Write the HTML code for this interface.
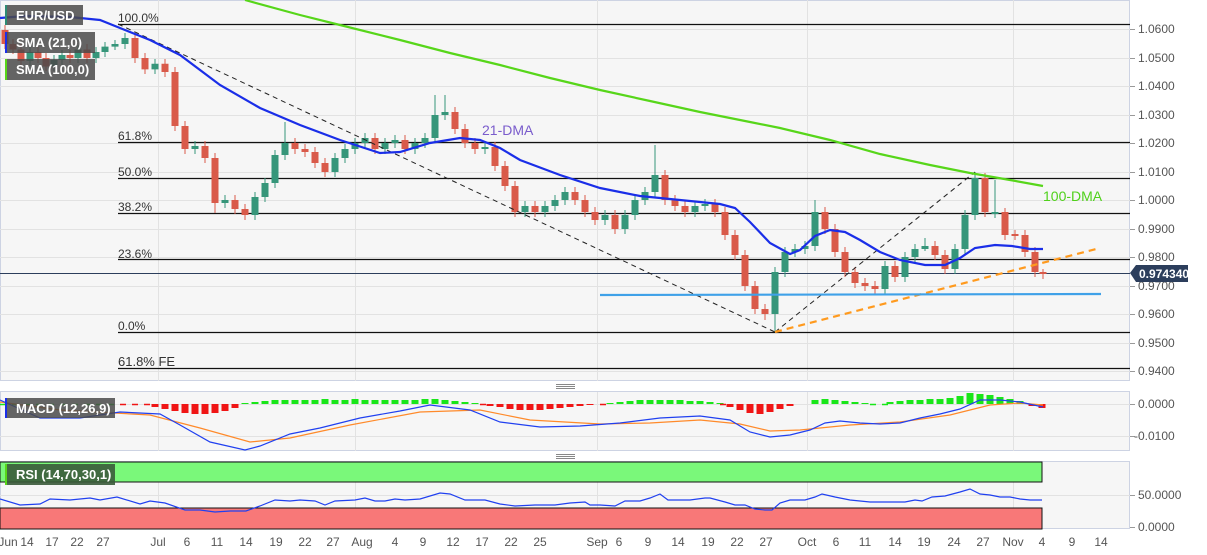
<!DOCTYPE html>
<html><head><meta charset="utf-8"><style>
html,body{margin:0;padding:0;background:#fff;}
svg{display:block;font-family:"Liberation Sans",sans-serif;}
</style></head><body>
<svg width="1207" height="555" viewBox="0 0 1207 555" xmlns="http://www.w3.org/2000/svg">
<rect x="0" y="0" width="1207" height="555" fill="#fff"/>
<rect x="0.5" y="0.5" width="1129" height="380" fill="#f6f6f6" stroke="#cdd3e3"/>
<rect x="0.5" y="391.5" width="1129" height="59" fill="#f6f6f6" stroke="#cdd3e3"/>
<rect x="0.5" y="461.5" width="1129" height="67" fill="#f6f6f6" stroke="#cdd3e3"/>
<g stroke="#e2e2e2" stroke-width="1">
<path d="M0,29.5H1130M0,58.5H1130M0,86.5H1130M0,115.5H1130M0,143.5H1130M0,172.5H1130M0,200.5H1130M0,229.5H1130M0,257.5H1130M0,286.5H1130M0,314.5H1130M0,343.5H1130M0,371.5H1130M0,404.5H1130M0,436.5H1130M0,495.5H1130"/>
<path d="M158.5,0V381M355.5,0V381M597.5,0V381M807.5,0V381M1013.5,0V381M158.5,392V451M355.5,392V451M597.5,392V451M807.5,392V451M1013.5,392V451M158.5,462V529M355.5,462V529M597.5,462V529M807.5,462V529M1013.5,462V529"/>
</g>
<path stroke="#999" d="M1130,29.5h5M1130,58.5h5M1130,86.5h5M1130,115.5h5M1130,143.5h5M1130,172.5h5M1130,200.5h5M1130,229.5h5M1130,257.5h5M1130,286.5h5M1130,314.5h5M1130,343.5h5M1130,371.5h5M1130,404.5h5M1130,436.5h5M1130,495.5h5M1130,527.5h5"/>
<g font-size="12" fill="#555">
<text x="1138" y="33">1.0600</text><text x="1138" y="62">1.0500</text><text x="1138" y="90">1.0400</text>
<text x="1138" y="119">1.0300</text><text x="1138" y="147">1.0200</text><text x="1138" y="176">1.0100</text>
<text x="1138" y="204">1.0000</text><text x="1138" y="233">0.9900</text><text x="1138" y="261">0.9800</text>
<text x="1138" y="290">0.9700</text><text x="1138" y="318">0.9600</text><text x="1138" y="347">0.9500</text>
<text x="1138" y="375">0.9400</text>
<text x="1138" y="408">0.0000</text><text x="1134" y="440">-0.0100</text>
<text x="1138" y="499">50.0000</text><text x="1138" y="531">0.0000</text>
</g>
<g font-size="12" fill="#555" text-anchor="middle">
<text x="8" y="546">Jun</text><text x="27" y="546">14</text><text x="52" y="546">17</text><text x="77" y="546">22</text><text x="103" y="546">27</text>
<text x="158" y="546">Jul</text><text x="187" y="546">6</text><text x="217" y="546">11</text><text x="246" y="546">14</text><text x="276" y="546">19</text>
<text x="305" y="546">22</text><text x="333" y="546">27</text><text x="362" y="546">Aug</text><text x="395" y="546">4</text><text x="423" y="546">9</text>
<text x="453" y="546">12</text><text x="482" y="546">17</text><text x="511" y="546">22</text><text x="540" y="546">25</text>
<text x="597" y="546">Sep</text><text x="619" y="546">6</text><text x="648" y="546">9</text><text x="678" y="546">14</text><text x="708" y="546">19</text>
<text x="737" y="546">22</text><text x="766" y="546">27</text><text x="807" y="546">Oct</text><text x="836" y="546">6</text><text x="865" y="546">11</text>
<text x="895" y="546">14</text><text x="924" y="546">19</text><text x="954" y="546">24</text><text x="983" y="546">27</text><text x="1013" y="546">Nov</text>
<text x="1042" y="546">4</text><text x="1072" y="546">9</text><text x="1101" y="546">14</text>
</g>
<g stroke="#111" stroke-width="1.3">
<line x1="118" y1="24.5" x2="1130" y2="24.5"/><line x1="118" y1="142.5" x2="1130" y2="142.5"/>
<line x1="118" y1="178.5" x2="1130" y2="178.5"/><line x1="118" y1="213.5" x2="1130" y2="213.5"/>
<line x1="118" y1="259.5" x2="1130" y2="259.5"/><line x1="118" y1="332.5" x2="1130" y2="332.5"/>
<line x1="118" y1="368.5" x2="1130" y2="368.5"/>
</g>
<g font-size="12" fill="#333">
<text x="118" y="22">100.0%</text><text x="118" y="140">61.8%</text><text x="118" y="176">50.0%</text>
<text x="118" y="211">38.2%</text><text x="118" y="258">23.6%</text><text x="118" y="330">0.0%</text>
<text x="118" y="366" font-size="13">61.8% FE</text>
</g>
<line x1="0" y1="273.5" x2="1130" y2="273.5" stroke="#2c3e5c" stroke-width="1"/>
<!-- candles: up -->
<g stroke="#36967a">
<path stroke-width="1" d="M30,47V66M54,55V71M62,50V65M78,45V63M96,47V63M105,42V57M115,40V50M125,33V49M155,59V74M195,141V154M225,195V208M255,192V220M265,178V202M275,150V188M285,122V160M335,153V177M345,144V163M355,138V154M365,133V148M385,138V154M395,135V148M415,138V154M425,133V148M435,95V143M445,95V120M485,142V154M525,201V217M545,201V217M555,195V211M565,187V205M605,210V225M625,210V234M635,195V220M645,187V205M655,145V197M695,201V217M705,199V211M775,267V332M785,247V277M795,244V257M805,241V254M815,200V251M885,261V294M905,252V282M915,244V262M925,238V251M955,244V274M965,210V254M975,172V220M995,180V218"/>
<path stroke-width="7" d="M30,61V52M54,66.5V60M62,60V55M78,58V49.5M96,58V52M105,52V46.6M115,46.6V44M125,44V38M155,69.4V63.7M195,149V146M225,203V200M255,215V197M265,197V183M275,183V155M285,155V143M335,172V158M345,158V149M355,149V143M365,143V138M385,149V143M395,143V140M415,149V143M425,143V138M435,138V115M445,115V112M485,149V147M525,212V206M545,212V206M555,206V200M565,200V192M605,220V215M625,229V215M635,215V200M645,200V192M655,192V175M695,212V206M705,206V204M775,314V272M785,272V252M795,252V249M805,249V246M815,246V212M885,289V266M905,277V257M915,257V249M925,249V246M955,269V249M965,249V215M975,215V178M995,212V214"/>
</g>
<!-- candles: down -->
<g stroke="#d95a4a">
<path stroke-width="1" d="M5,25V49M13,39V54M21,44V66M38,47V63M46,53V71M70,50V63M87,44V63M135,33V63M145,53V74M165,59V77M175,67V131M185,121V154M205,141V163M215,153V213M235,195V214M245,204V220M295,138V154M305,144V157M315,147V168M325,158V177M375,133V154M405,135V154M455,107V134M465,124V148M475,138V154M495,142V171M505,161V191M515,181V217M535,201V217M575,187V205M585,195V217M595,207V225M615,210V234M665,170V205M675,195V211M685,201V217M715,199V217M725,207V240M735,230V260M745,250V291M755,281V314M765,304V320M825,207V234M835,224V257M845,247V277M855,267V288M865,278V291M875,281V294M895,261V282M935,241V260M945,250V274M985,173V217M1005,208V240M1015,230V240M1025,230V257M1035,247V277M1043,269V279"/>
<path stroke-width="7" d="M5,30V44M13,44V49.5M21,49.5V61M38,52V58M46,58V66.5M70,55V58M87,49.5V58M135,38V58M145,58V69.4M165,63.7V72M175,72V126M185,126V149M205,146V158M215,158V203M235,200V209M245,209V215M295,143V149M305,149V152M315,152V163M325,163V172M375,138V149M405,140V149M455,112V129M465,129V143M475,143V149M495,147V166M505,166V186M515,186V212M535,206V212M575,192V200M585,200V212M595,212V220M615,215V229M665,175V200M675,200V206M685,206V212M715,204V212M725,212V235M735,235V255M745,255V286M755,286V309M765,309V314M825,212V229M835,229V252M845,252V272M855,272V283M865,283V286M875,286V289M895,266V277M935,246V255M945,255V269M985,178V212M1005,212V235M1015,234V236M1025,235V252M1035,252V272M1043,272V274"/>
</g>
<line x1="118" y1="24" x2="775" y2="332" stroke="#222" stroke-dasharray="5,4" stroke-width="1"/>
<line x1="775" y1="332" x2="975" y2="172" stroke="#222" stroke-dasharray="5,4" stroke-width="1"/>
<line x1="775" y1="332" x2="1100" y2="248" stroke="#ff9a1e" stroke-dasharray="7,5" stroke-width="2.2"/>
<line x1="600" y1="295" x2="1101" y2="294" stroke="#3fa1e8" stroke-width="2.2"/>
<polyline fill="none" stroke="#57d61a" stroke-width="2.2" points="245,0 300,15 340,25 400,40 450,53 500,65 550,78 600,90 650,101 700,112 750,122 780,128 830,140 880,154 930,165 970,173 1010,180 1043,186"/>
<polyline fill="none" stroke="#1a2ee8" stroke-width="2.2" points="0,18 25,16 70,17 100,20 120,28 150,40 180,55 220,85 260,108 300,125 340,140 380,153 400,152 430,143 460,138 480,140 500,148 520,160 560,175 600,188 640,196 680,200 720,204 735,208 750,222 770,243 790,254 800,250 815,236 830,230 845,232 860,240 880,252 900,260 925,265 945,265 960,258 975,248 995,245 1012,246 1030,249 1043,249"/>
<text x="482" y="135" font-size="14" fill="#7a5ccc">21-DMA</text>
<text x="1043" y="201" font-size="14" fill="#4fd11a">100-DMA</text>
<path d="M1130,273 L1136,265 L1188,265 L1188,282 L1136,282 Z" fill="#2c3e5c"/>
<text x="1139" y="278" font-size="12" font-weight="bold" fill="#fff">0.974340</text>
<rect x="5" y="5" width="78" height="20" fill="#4a4a4a" fill-opacity="0.85"/><rect x="5" y="5" width="2" height="20" fill="#2e8b74"/>
<text x="16" y="20" font-size="13" font-weight="bold" fill="#fff">EUR/USD</text>
<rect x="5" y="32" width="90" height="21" fill="#4a4a4a" fill-opacity="0.85"/><rect x="5" y="32" width="2" height="21" fill="#1a2ee8"/>
<text x="16" y="47" font-size="13" font-weight="bold" fill="#fff">SMA (21,0)</text>
<rect x="5" y="59" width="90" height="21" fill="#4a4a4a" fill-opacity="0.85"/><rect x="5" y="59" width="2" height="21" fill="#57d61a"/>
<text x="16" y="74" font-size="13" font-weight="bold" fill="#fff">SMA (100,0)</text>
<g stroke="#888"><line x1="556" y1="384.5" x2="575" y2="384.5"/><line x1="556" y1="386.5" x2="575" y2="386.5"/><line x1="556" y1="388.5" x2="575" y2="388.5"/>
<line x1="556" y1="454.5" x2="575" y2="454.5"/><line x1="556" y1="456.5" x2="575" y2="456.5"/><line x1="556" y1="458.5" x2="575" y2="458.5"/></g>
<!-- MACD histogram -->
<path stroke="#19e619" stroke-width="7" d="M245,404V403M255,404V402M265,404V401M275,404V400M285,404V400M295,404V400M305,404V400M315,404V400M325,404V399M335,404V400M345,404V400M355,404V399M365,404V400M375,404V400M385,404V400M395,404V400M405,404V400M415,404V400M425,404V399M435,404V399M445,404V400M455,404V401M465,404V402M475,404V403M610,404V403M620,404V402M630,404V401M640,404V400M650,404V400M660,404V400M670,404V400M680,404V400M690,404V401M700,404V401M710,404V402M720,404V403M815,404V400M825,404V399M835,404V400M845,404V401M855,404V402M865,404V403M890,404V402M900,404V401M910,404V400M920,404V400M930,404V399M940,404V399M950,404V398M960,404V396M970,404V393M980,404V394M990,404V395M1000,404V397M1010,404V399M1020,404V401"/>
<path stroke="#f01515" stroke-width="7" d="M155,404V407M165,404V409M175,404V411M185,404V413M195,404V414M205,404V414M215,404V413M225,404V411M235,404V408M490,404V406M500,404V407M510,404V409M520,404V410M530,404V410M540,404V410M550,404V409M560,404V408M570,404V407M580,404V406M590,404V405M730,404V407M740,404V410M750,404V413M760,404V414M770,404V412M780,404V409M790,404V406M1032,404V406M1042,404V408"/>
<path stroke="#f01515" stroke-width="1.5" stroke-dasharray="6,6" d="M120,404.5H150M480,404.5H490M600,404.5H610M720,404.5H730"/>
<path stroke="#19e619" stroke-width="1.5" stroke-dasharray="6,6" d="M0,404.5H120M870,404.5H890"/>
<polyline fill="none" stroke="#ff8a2a" stroke-width="1.2" points="0,402 60,410 150,415 200,428 250,442 290,438 350,425 420,412 480,410 530,420 600,424 650,423 700,420 740,424 770,431 800,430 850,425 900,422 950,415 990,405 1020,403 1043,405"/>
<polyline fill="none" stroke="#2040f0" stroke-width="1.2" points="0,400 40,418 80,418 120,412 160,414 180,425 210,442 245,450 260,446 290,434 320,428 360,418 400,411 430,405 470,410 500,422 540,427 580,426 620,423 660,418 700,416 730,420 750,432 770,437 790,435 810,430 825,423 840,421 860,423 880,424 900,423 920,418 940,414 960,409 980,400 1000,400 1020,402 1043,407"/>
<rect x="5" y="398" width="110" height="20" fill="#4a4a4a" fill-opacity="0.85"/><rect x="5" y="398" width="2" height="20" fill="#1a2ee8"/>
<text x="16" y="413" font-size="13" font-weight="bold" fill="#fff">MACD (12,26,9)</text>
<rect x="0" y="462" width="1042" height="20" fill="#7af87a" stroke="#111" stroke-width="1"/>
<rect x="0" y="508" width="1042" height="21" fill="#f87878" stroke="#111" stroke-width="1"/>
<polyline fill="none" stroke="#2040f0" stroke-width="1.2" points="0,499 20,505 40,504 50,499 70,500 90,498 100,500 117,497 140,504 150,501 165,503 185,510 200,510 215,512 230,511 246,511 260,506 275,500 290,501 300,500 315,501 325,505 335,501 355,500 365,498 375,501 385,501 395,499 405,500 420,499 440,493 450,494 465,500 485,500 500,504 515,506 535,505 555,505 570,503 585,502 590,505 600,505 615,506 625,501 640,501 650,498 660,494 668,500 690,500 705,498 710,498 725,502 735,505 745,505 755,509 765,510 772,510 780,503 790,500 805,500 815,497 822,494 835,497 850,500 870,502 890,502 905,502 915,500 922,501 932,497 945,496 960,492 970,489 980,494 990,495 1000,497 1010,497 1020,499 1030,500 1042,500"/>
<rect x="5" y="464" width="110" height="21" fill="#3a5a3a" fill-opacity="0.9"/><rect x="5" y="464" width="2" height="21" fill="#57d61a"/>
<text x="16" y="479" font-size="13" font-weight="bold" fill="#fff">RSI (14,70,30,1)</text>
</svg>
</body></html>
